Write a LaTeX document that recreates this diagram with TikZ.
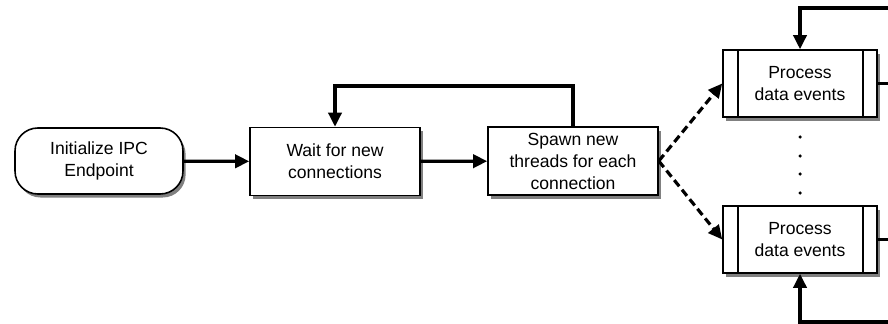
\documentclass[tikz,border=0pt]{standalone}
\usepackage{fontspec}
\setmainfont{Liberation Sans}
\usetikzlibrary{arrows.meta,shadows}

\begin{document}
\begin{tikzpicture}[x=0.02cm,y=-0.02cm,font=\fontsize{10}{12.5}\selectfont,
	box/.style={draw,line width=0.9pt,fill=white,align=center,inner sep=0pt,
		minimum width=3.4cm,minimum height=1.36cm,
		drop shadow={shadow xshift=1.5pt,shadow yshift=-2pt,fill=black!50,opacity=1}},
	startbox/.style={box,rounded corners=13pt,minimum width=3.36cm,minimum height=1.32cm},
	procbox/.style={box,minimum width=3.08cm,minimum height=1.34cm},
	flow/.style={line width=1.8pt,-{Triangle[length=8pt,width=7.5pt]}},
	spawnflow/.style={flow,dash pattern=on 4.5pt off 2.5pt}]
	%frame
	\clip (0,0) rectangle (888,324);

	%main row
	\node[startbox] (init) at (99,161) {Initialize IPC\\Endpoint};
	\node[box] (wait) at (335,161.5) {Wait for new\\connections};
	\node[box] (spawn) at (573,161) {Spawn new\\threads for each\\connection};

	%worker threads
	\node[procbox] (proc1) at (800,83.5) {Process\\data events};
	\node[procbox] (proc2) at (800,239.5) {Process\\data events};
	\foreach \p in {proc1,proc2}{
		\draw[line width=0.9pt] ([xshift=0.32cm]\p.north west) -- ([xshift=0.32cm]\p.south west);
		\draw[line width=0.9pt] ([xshift=-0.3cm]\p.north east) -- ([xshift=-0.3cm]\p.south east);
	}

	%dots between threads
	\foreach \y in {137,156,174,193}
		\fill (800,\y) circle[radius=1pt];

	%loop coordinates
	\coordinate (waitloop) at (335,86);
	\coordinate (toploop) at (905,8);
	\coordinate (botloop) at (905,322);

	%arrows
	\draw[flow] (init) -- (wait);
	\draw[flow] (wait) -- (spawn);
	\draw[flow] (spawn.north) |- (waitloop) -- (wait.north); %accept loop
	\draw[spawnflow] (spawn.east) -- (proc1.west);
	\draw[spawnflow] (spawn.east) -- (proc2.west);
	\draw[flow] (proc1.east) -| (toploop) -| (proc1.north); %thread 1 loop
	\draw[flow] (proc2.east) -| (botloop) -| (proc2.south); %thread 2 loop
\end{tikzpicture}
\end{document}
